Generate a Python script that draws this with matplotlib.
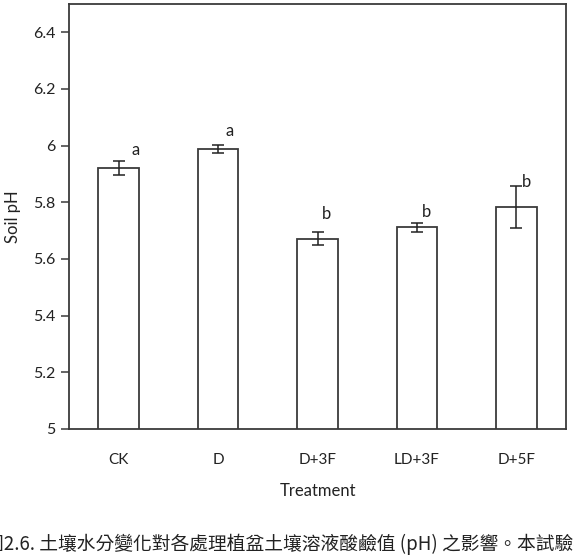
import matplotlib
matplotlib.use("Agg")
import matplotlib.pyplot as plt

categories = ["CK", "D", "D+3F", "LD+3F", "D+5F"]
ph_mean = [5.921, 5.988, 5.672, 5.712, 5.783]
ph_err = [0.024, 0.013, 0.023, 0.015, 0.075]
letters = ["a", "a", "b", "b", "b"]
yticks = [5, 5.2, 5.4, 5.6, 5.8, 6, 6.2, 6.4]
ytick_labels = ["5", "5.2", "5.4", "5.6", "5.8", "6", "6.2", "6.4"]
caption = "圖2.6. 土壤水分變化對各處理植盆土壤溶液酸鹼值 (pH) 之影響。本試驗者"

# layout offsets (points) for significance letters relative to error-bar tops
letter_dx = [12, 8.6, 6.6, 7, 7.7]
letter_dy = [8, 10, 13, 7.7, 2.7]

plt.rcParams['font.family'] = ['Lato', 'DejaVu Sans']
ec = "#3a3a3a"
tc = "#222222"

fig = plt.figure(figsize=(5.74, 5.6), dpi=100)
ax = fig.add_axes([69/574, 131/560, 497/574, 425/560])

x = list(range(len(categories)))
ax.bar(x, ph_mean, width=0.41, color="white", edgecolor=ec, linewidth=1.3, zorder=2)
ax.errorbar(x, ph_mean, yerr=ph_err, fmt="none", ecolor=tc,
            elinewidth=1.1, capsize=4, capthick=1.1, zorder=3)

for i, (m, e, l) in enumerate(zip(ph_mean, ph_err, letters)):
    ax.annotate(l, xy=(i, m + e), xytext=(letter_dx[i], letter_dy[i]),
                textcoords="offset points", ha="center", va="center",
                fontsize=12, color=tc)

ax.set_xlim(-0.5, len(categories) - 0.5)
ax.set_ylim(5, 6.5)
ax.set_yticks(yticks)
ax.set_yticklabels(ytick_labels)
ax.set_xticks(x)
ax.set_xticklabels(categories)
ax.tick_params(axis="x", length=0, pad=17, labelsize=11, colors=tc)
ax.tick_params(axis="y", direction="out", length=6, width=1.1, color=ec,
               labelsize=11.5, labelcolor=tc)
for s in ax.spines.values():
    s.set_color(ec)
    s.set_linewidth(1.3)

ax.set_xlabel("Treatment", fontsize=12, labelpad=12, color=tc)
ax.set_ylabel("Soil pH", fontsize=12, labelpad=9, color=tc)

fig.text(-0.026, 0.028, caption, fontsize=13.5, va="center", ha="left",
         family=["Noto Sans CJK TC", "DejaVu Sans"], color=tc)

fig.savefig("out.png", dpi=100)
